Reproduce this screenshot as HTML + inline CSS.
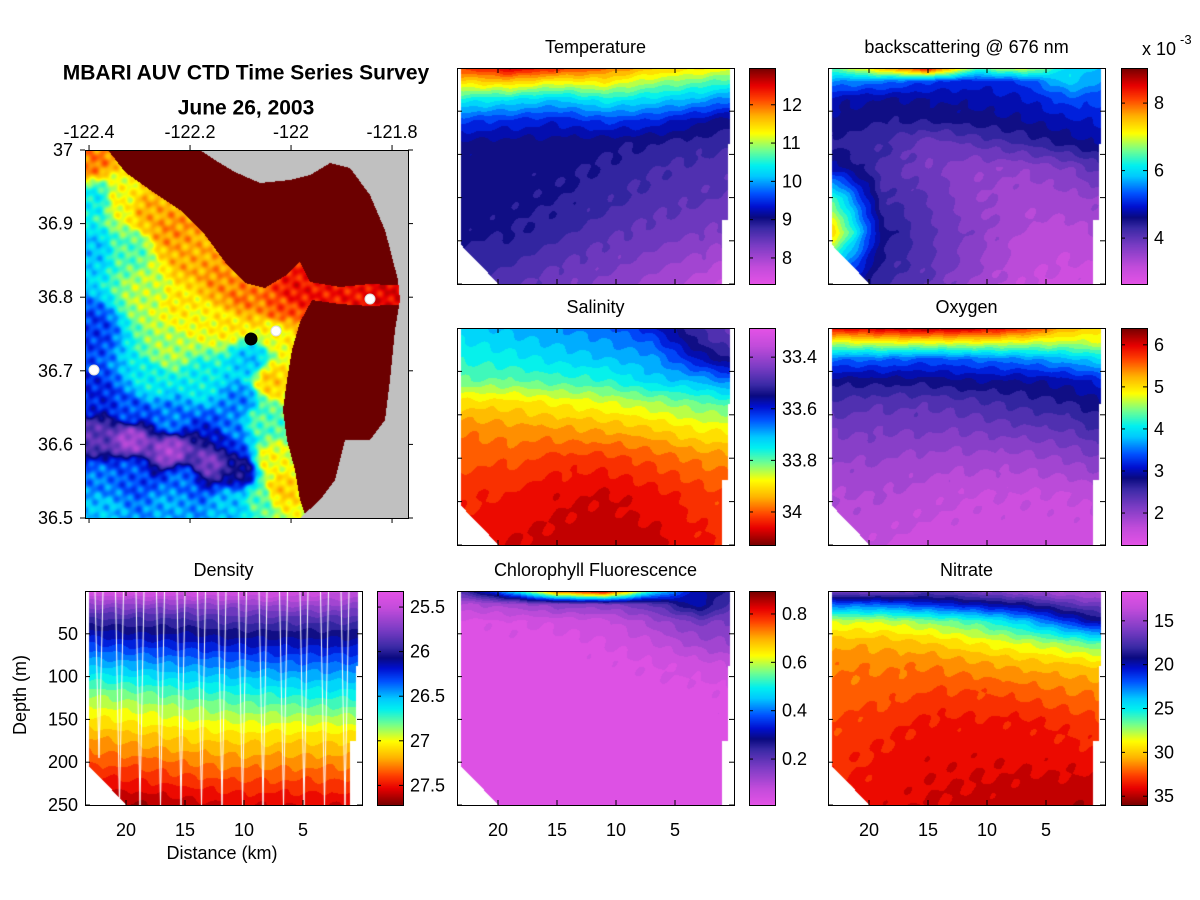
<!DOCTYPE html>
<html><head><meta charset="utf-8">
<style>
html,body{margin:0;padding:0;background:#fff;}
#root{position:relative;width:1200px;height:900px;overflow:hidden;background:#fff;font-family:"Liberation Sans",Arial,sans-serif;}
canvas{position:absolute;}
svg{position:absolute;left:0;top:0;}
</style></head>
<body>
<div id="root">
<canvas id="map" style="left:85px;top:150px" width="324" height="368"></canvas>
<svg id="ov" width="1200" height="900"></svg>
</div>
<script>
// ---- section data: columns are distance (km), rows depth (m) ----
const distCols = [23, 19, 15, 11, 7, 3, 0];
const depthRows = [0, 15, 35, 60, 85, 115, 150, 190, 250];
const densityDepthRows = [0, 8, 18, 30, 50, 80, 120, 170, 250];
const temperatureVals = [
 [12.2,12.6,12.3,12.0,11.6,11.4,11.2],
 [11.5,11.6,11.3,11.4,11.0,10.8,10.6],
 [10.5,10.4,10.2,10.5,10.3,10.1,9.8],
 [9.6,9.5,9.4,9.6,9.5,9.2,9.0],
 [9.1,9.05,9.05,9.0,8.95,8.85,8.75],
 [9.05,9.0,9.0,8.9,8.75,8.65,8.6],
 [9.05,9.0,8.95,8.8,8.65,8.55,8.5],
 [9.0,8.95,8.8,8.6,8.45,8.35,8.25],
 [8.7,8.6,8.4,8.25,8.05,7.85,7.6]];
const backscatterVals = [
 [6.5,7.5,8.5,6.5,7.0,6.0,5.8],
 [5.6,5.5,5.2,5.0,5.2,6.0,5.5],
 [4.8,4.7,4.7,4.8,4.9,5.3,5.2],
 [4.6,4.5,4.5,4.6,4.7,4.9,5.0],
 [4.4,4.3,3.9,4.1,4.3,4.6,4.8],
 [4.8,4.2,3.8,3.6,3.6,3.8,4.2],
 [6.4,4.3,4.0,3.6,3.4,3.5,3.6],
 [7.4,4.6,4.1,3.7,3.3,3.2,3.4],
 [5.0,4.3,4.0,3.5,3.1,3.0,3.0]];
const salinityVals = [
 [33.72,33.70,33.68,33.66,33.60,33.50,33.45],
 [33.74,33.72,33.70,33.68,33.64,33.52,33.47],
 [33.76,33.75,33.73,33.71,33.69,33.58,33.52],
 [33.80,33.80,33.78,33.77,33.72,33.70,33.65],
 [33.90,33.90,33.88,33.86,33.83,33.80,33.78],
 [33.97,33.96,33.95,33.94,33.92,33.88,33.88],
 [34.00,34.00,34.02,34.02,34.00,33.97,33.96],
 [34.03,34.04,34.06,34.07,34.05,34.02,34.00],
 [34.05,34.07,34.08,34.09,34.08,34.05,34.03]];
const oxygenVals = [
 [6.0,6.1,6.2,6.1,5.8,5.2,5.0],
 [4.8,4.9,4.9,4.9,4.8,4.7,4.8],
 [3.5,3.5,3.4,3.5,3.6,3.8,4.0],
 [2.8,2.8,2.8,2.9,2.9,3.0,3.2],
 [2.5,2.4,2.4,2.5,2.6,2.7,2.9],
 [2.2,2.2,2.2,2.2,2.3,2.4,2.6],
 [2.0,2.0,1.9,1.9,1.9,2.0,2.2],
 [1.8,1.8,1.7,1.6,1.6,1.6,1.7],
 [1.7,1.6,1.5,1.5,1.5,1.5,1.5]];
const densityVals = [
 [25.35,25.35,25.40,25.40,25.40,25.45,25.50],
 [25.55,25.55,25.55,25.55,25.52,25.55,25.6],
 [25.72,25.72,25.72,25.72,25.68,25.68,25.72],
 [25.90,25.90,25.90,25.85,25.85,25.85,25.85],
 [26.15,26.10,26.10,26.05,26.05,26.05,26.05],
 [26.45,26.42,26.38,26.35,26.32,26.32,26.32],
 [26.85,26.80,26.75,26.70,26.68,26.65,26.65],
 [27.20,27.15,27.10,27.08,27.08,27.08,27.08],
 [27.65,27.65,27.60,27.55,27.55,27.55,27.55]];
const chlorophyllVals = [
 [0.22,0.45,0.75,0.85,0.50,0.30,0.25],
 [0.10,0.12,0.16,0.16,0.20,0.32,0.20],
 [0.03,0.04,0.05,0.06,0.12,0.18,0.16],
 [0.03,0.03,0.03,0.04,0.07,0.12,0.14],
 [0.03,0.03,0.03,0.03,0.04,0.06,0.08],
 [0.03,0.03,0.03,0.03,0.03,0.03,0.04],
 [0.03,0.03,0.03,0.03,0.03,0.03,0.03],
 [0.03,0.03,0.03,0.03,0.03,0.03,0.03],
 [0.03,0.03,0.03,0.03,0.03,0.03,0.03]];
const nitrateVals = [
 [16,16,17,16,15,14,14],
 [22,22,21,20,19,17,16],
 [28,28,27,26,24,21,19],
 [30.5,30.5,30,29,28,27,26],
 [31.5,31.5,31.5,31,30.5,30,29.5],
 [32,32,32.5,32.5,32,31.5,31.5],
 [32.5,33,33.5,33.5,33.5,33,32.5],
 [33,33.5,34,34,34,33.8,33.5],
 [33.5,34,34.3,34.5,34.8,35,35.2]];
const temperatureTicks = [8, 9, 10, 11, 12];
const backscatterTicks = [4, 6, 8];
const salinityTicks = [33.4, 33.6, 33.8, 34];
const oxygenTicks = [2, 3, 4, 5, 6];
const densityTicks = [25.5, 26, 26.5, 27, 27.5];
const chlorophyllTicks = [0.2, 0.4, 0.6, 0.8];
const nitrateTicks = [15, 20, 25, 30, 35];
const distanceTicks = [20, 15, 10, 5];
const depthTicks = [50, 100, 150, 200, 250];
const lonTicks = [-122.4, -122.2, -122, -121.8];
const latTicks = [37, 36.9, 36.8, 36.7, 36.6, 36.5];

const NS = "http://www.w3.org/2000/svg";
const ov = document.getElementById('ov');
const root = document.getElementById('root');
function sv(tag, attrs, parent){const e=document.createElementNS(NS,tag);for(const k in attrs)e.setAttribute(k,attrs[k]);(parent||ov).appendChild(e);return e;}
function txt(x,y,s,opts){opts=opts||{};const t=sv('text',{x:x,y:y,'font-size':opts.size||17,'text-anchor':opts.anchor||'middle','dominant-baseline':'central','font-family':'Liberation Sans, Arial, sans-serif','font-weight':opts.bold?'bold':'normal',fill:'#000'});if(opts.rot)t.setAttribute('transform','rotate(-90 '+x+' '+y+')');t.textContent=s;return t;}

const stops=[[0,[229,82,230]],[0.08,[194,76,219]],[0.18,[122,60,196]],[0.26,[58,42,166]],[0.31,[10,10,128]],[0.36,[0,16,208]],[0.42,[0,80,255]],[0.50,[0,200,255]],[0.55,[0,240,240]],[0.62,[112,255,144]],[0.70,[255,255,0]],[0.78,[255,176,0]],[0.86,[255,64,0]],[0.92,[232,0,0]],[1,[118,0,0]]];
function cmap(t){t=Math.max(0,Math.min(1,t));for(let i=1;i<stops.length;i++){if(t<=stops[i][0]){const a=stops[i-1],b=stops[i];const f=(t-a[0])/(b[0]-a[0]);return [0,1,2].map(k=>Math.round(a[1][k]+(b[1][k]-a[1][k])*f));}}return stops[stops.length-1][1];}

function interp(grid,rows,d,z){
  let ci=0;while(ci<distCols.length-2&&d<distCols[ci+1])ci++;
  let fc=(distCols[ci]-d)/(distCols[ci]-distCols[ci+1]);fc=Math.max(0,Math.min(1,fc));
  let ri=0;while(ri<rows.length-2&&z>rows[ri+1])ri++;
  let fr=(z-rows[ri])/(rows[ri+1]-rows[ri]);fr=Math.max(0,Math.min(1,fr));
  const a=grid[ri][ci],b=grid[ri][ci+1],c=grid[ri+1][ci],e=grid[ri+1][ci+1];
  return (a*(1-fc)+b*fc)*(1-fr)+(c*(1-fc)+e*fc)*fr;
}
function inMask(u,v){
  if(u<0.012)return false;
  const right = v<0.35?0.985:(v<0.7?0.975:0.955);
  if(u>right)return false;
  if(v>0.8){const ub=0.15*(v-0.8)/0.2;if(u<ub)return false;}
  return true;
}
function tick(x1,y1,x2,y2){sv('line',{x1:x1,y1:y1,x2:x2,y2:y2,stroke:'#000','stroke-width':1});}

function section(name,title,L,T,W,H,grid,rows,vmin,vmax,invert,ticks,cbX,cbW,showX){
  const cv=document.createElement('canvas');cv.width=W;cv.height=H;cv.style.left=L+'px';cv.style.top=T+'px';
  
  
  root.insertBefore(cv,ov);
  const ctx=cv.getContext('2d');const img=ctx.createImageData(W,H);
  const nl=28;
  for(let y=0;y<H;y++)for(let x=0;x<W;x++){
    const u=x/W,v=y/H;const i=(y*W+x)*4;
    if(!inMask(u,v)){img.data[i]=255;img.data[i+1]=255;img.data[i+2]=255;img.data[i+3]=255;continue;}
    const d=(W-x)/11.8, z=v*250;
    let val=interp(grid,rows,d,z);
    val+= (vmax-vmin)*0.012*Math.sin(x*0.21+y*0.13)*Math.sin(y*0.17-x*0.05);
    let t=(val-vmin)/(vmax-vmin);t=Math.floor(t*nl)/nl+0.5/nl;
    const c=cmap(t);img.data[i]=c[0];img.data[i+1]=c[1];img.data[i+2]=c[2];img.data[i+3]=255;
  }
  ctx.putImageData(img,0,0);
  if(name==='density'){
    ctx.strokeStyle='#fff';ctx.lineWidth=1;
    for(let k=0;k<13;k++){const x0=10+k*20.5;ctx.beginPath();ctx.moveTo(x0,0);ctx.lineTo(x0+4,H*(k==0?0.78:1));ctx.lineTo(x0+8,0);ctx.stroke();}
  }
  const g=sv('g',{});  
  sv('rect',{x:L+0.5,y:T+0.5,width:W,height:H,fill:'none',stroke:'#000','stroke-width':1},g);
  txt(L+W/2,T-21,title,{size:18});
  distanceTicks.forEach(dk=>{const x=L+W-dk*11.8;tick(x,T+H,x,T+H-5);tick(x,T,x,T+5);
    if(showX){txt(x,T+H+25,String(dk),{size:18});}});
  depthTicks.forEach(dz=>{const y=T+dz/250*H;tick(L,y,L+5,y);tick(L+W,y,L+W-5,y);});
  const cb=document.createElement('canvas');cb.width=cbW;cb.height=H;cb.style.left=cbX+'px';cb.style.top=T+'px';
  
  
  root.insertBefore(cb,ov);
  const c2=cb.getContext('2d');
  for(let y=0;y<H;y++){let t=1-y/H;if(invert)t=1-t;const c=cmap(t);c2.fillStyle='rgb('+c.join(',')+')';c2.fillRect(0,y,cbW,1);}
  sv('rect',{x:cbX+0.5,y:T+0.5,width:cbW,height:H,fill:'none',stroke:'#000'});
  ticks.forEach(tv=>{let f=(tv-vmin)/(vmax-vmin);const y=invert?T+f*H:T+H-f*H;
    tick(cbX,y,cbX+4,y);tick(cbX+cbW,y,cbX+cbW-4,y);
    const lt=txt(cbX+cbW+7,y,String(tv),{size:18,anchor:'start'});
    
  });
}

section('temperature','Temperature',457,68,277,216,temperatureVals,depthRows,7.32,12.96,false,temperatureTicks,749,26,false);
section('backscatter','backscattering @ 676 nm',828,68,277,216,backscatterVals,depthRows,2.64,9.04,false,backscatterTicks,1121,26,false);
section('salinity','Salinity',457,328,277,217,salinityVals,depthRows,33.287,34.128,true,salinityTicks,749,26,false);
section('oxygen','Oxygen',828,328,277,217,oxygenVals,depthRows,1.24,6.40,false,oxygenTicks,1121,26,false);
section('density','Density',85,591,277,214,densityVals,densityDepthRows,25.32,27.72,true,densityTicks,377,26,true);
section('chlorophyll','Chlorophyll Fluorescence',457,591,277,214,chlorophyllVals,depthRows,0.01,0.895,false,chlorophyllTicks,749,26,true);
section('nitrate','Nitrate',828,591,277,214,nitrateVals,depthRows,11.6,36.0,true,nitrateTicks,1121,26,true);

const ex=sv('text',{x:1142,y:55,'font-size':18,'font-family':'Liberation Sans, Arial, sans-serif'});

ex.textContent='x 10';
const sup=sv('text',{x:1180,y:44,'font-size':13,'font-family':'Liberation Sans, Arial, sans-serif'});sup.textContent='-3';

depthTicks.forEach(dz=>{const y=591+dz/250*214;const t=txt(78,y,String(dz),{size:18,anchor:'end'});});
const yl=txt(20,695,'Depth (m)',{size:18,rot:true});
const xl=txt(222,853,'Distance (km)',{size:18});

// ---- map ----
const mapPts=[[90,160,0.82],[95,200,0.55],[90,250,0.5],[88,330,0.4],[90,400,0.38],[95,435,0.22],[130,440,0.12],[170,450,0.12],[210,460,0.18],[240,470,0.3],[130,410,0.42],[170,420,0.45],[130,470,0.42],[180,480,0.44],[220,440,0.35],[100,480,0.45],[100,510,0.5],[170,505,0.48],[230,505,0.5],[260,500,0.6],[280,490,0.75],[120,200,0.7],[150,210,0.78],[130,250,0.6],[150,290,0.66],[180,300,0.72],[200,320,0.7],[170,350,0.65],[200,380,0.55],[150,380,0.55],[230,320,0.72],[240,300,0.82],[220,280,0.8],[190,260,0.78],[170,230,0.8],[250,360,0.5],[240,400,0.45],[260,420,0.6],[230,430,0.45],[275,330,0.7],[280,310,0.85],[270,380,0.75],[270,460,0.7],[320,294,0.9],[350,295,0.9],[385,294,0.92],[295,290,0.9]];
const water=[[85,150],[200,150],[215,160],[235,172],[260,183],[290,180],[310,175],[330,163],[350,168],[370,195],[385,230],[398,280],[400,300],[395,330],[390,380],[385,420],[370,440],[345,440],[335,480],[320,500],[300,518],[85,518]];
const shelfNorth=[[108,150],[410,150],[410,286],[370,284],[340,287],[310,282],[300,262],[285,276],[265,288],[245,283],[225,262],[205,235],[180,210],[150,190],[125,172]];
const shelfSouth=[[410,304],[370,306],[340,304],[312,300],[300,322],[292,350],[287,380],[283,410],[287,440],[295,470],[300,500],[306,518],[410,518]];
(function(){
  const cv=document.getElementById('map');const ctx=cv.getContext('2d');const W=cv.width,H=cv.height;
  const img=ctx.createImageData(W,H);
  function maskOf(polys){const mc=document.createElement('canvas');mc.width=W;mc.height=H;const m=mc.getContext('2d');
    m.fillStyle='#000';polys.forEach(poly=>{m.beginPath();poly.forEach((p,i)=>{i?m.lineTo(p[0]-85,p[1]-150):m.moveTo(p[0]-85,p[1]-150);});m.closePath();m.fill();});
    return m.getImageData(0,0,W,H).data;}
  const md=maskOf([water]);const sd=maskOf([shelfNorth,shelfSouth]);
  for(let y=0;y<H;y++)for(let x=0;x<W;x++){
    const i=(y*W+x)*4;img.data[i+3]=255;
    if(md[i+3]<128){img.data[i]=192;img.data[i+1]=192;img.data[i+2]=192;continue;}
    if(sd[i+3]>128){img.data[i]=108;img.data[i+1]=0;img.data[i+2]=0;continue;}
    const X=x+85,Y=y+150;let sw=0,s=0;
    for(const p of mapPts){const dd=(p[0]-X)*(p[0]-X)+(p[1]-Y)*(p[1]-Y)+30;const w=1/(dd*dd);sw+=w;s+=w*p[2];}
    let t=s/sw;
    t+=0.03*Math.sin(X*0.47+Y*0.19)*Math.sin(Y*0.33-X*0.11)+0.02*Math.sin(X*0.23-Y*0.41);
    if(t>0.95)t=0.95;
    const c=cmap(t);img.data[i]=c[0];img.data[i+1]=c[1];img.data[i+2]=c[2];
  }
  ctx.putImageData(img,0,0);
})();
const mg=sv('g',{});
sv('rect',{x:85.5,y:150.5,width:323,height:368,fill:'none',stroke:'#000'},mg);
lonTicks.forEach(lo=>{const x=85+(lo+122.408)/0.2*101;tick(x,150,x,145);tick(x,518,x,523);
  const t=txt(x,132,String(lo),{size:18});});
latTicks.forEach(la=>{const y=518-(la-36.5)/0.5*368;tick(85,y,80,y);tick(408,y,413,y);
  const t=txt(73,y,String(la),{size:18,anchor:'end'});});
const d1=sv('circle',{cx:251,cy:339,r:6.5,fill:'#000'});
[[276,331],[370,299],[94,370]].forEach(p=>{const c=sv('circle',{cx:p[0],cy:p[1],r:5,fill:'#fff',stroke:'#ddd'});
  
  });
const t1=txt(246,73,'MBARI AUV CTD Time Series Survey',{size:21,bold:true});
const t2=txt(246,108,'June 26, 2003',{size:21,bold:true});
</script>
</body></html>
